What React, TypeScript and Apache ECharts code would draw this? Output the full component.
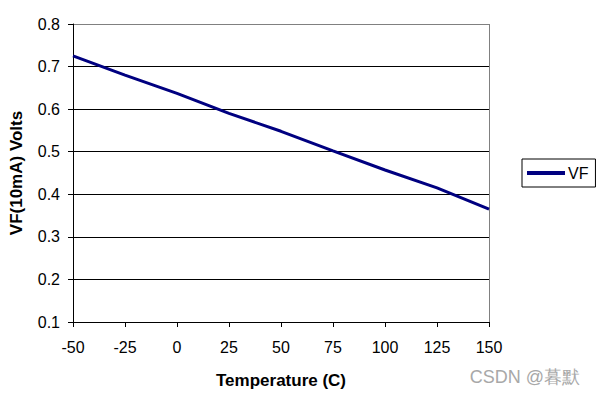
import React, { useEffect, useRef } from "react";
import * as echarts from "echarts";

const temperatures = [-50, -25, 0, 25, 50, 75, 100, 125, 150];
const vfValues = [0.725, 0.68, 0.637, 0.59, 0.548, 0.502, 0.457, 0.415, 0.365];
const seriesName = "VF";
const xAxisName = "Temperature (C)";
const yAxisName = "VF(10mA) Volts";
const watermark = "CSDN @暮默";

export default function App() {
  const ref = useRef<HTMLDivElement>(null);
  useEffect(() => {
    if (!ref.current) return;
    const chart = echarts.init(ref.current, null, { renderer: "svg" });
    const font = "Liberation Sans, Arial, sans-serif";
    chart.setOption({
      animation: false,
      backgroundColor: "#fff",
      textStyle: { fontFamily: font },
      grid: { left: 72, right: 107, top: 24, bottom: 72 },
      xAxis: {
        type: "value",
        min: -50,
        max: 150,
        interval: 25,
        name: xAxisName,
        nameLocation: "middle",
        nameGap: 50,
        nameTextStyle: { fontSize: 17, fontWeight: "bold", color: "#000", fontFamily: font },
        axisLine: { show: true, onZero: false, lineStyle: { color: "#000", width: 1 } },
        axisTick: { show: true, length: 5, lineStyle: { color: "#000" } },
        axisLabel: { fontSize: 16, color: "#000", margin: 17, fontFamily: font },
        splitLine: {
          show: true,
          lineStyle: {
            color: ["transparent", "transparent", "transparent", "transparent", "transparent", "transparent", "transparent", "transparent", "#808080"],
            width: 1,
          },
        },
      },
      yAxis: {
        type: "value",
        min: 0.1,
        max: 0.8,
        interval: 0.1,
        name: yAxisName,
        nameLocation: "middle",
        nameGap: 48,
        nameTextStyle: { fontSize: 17, fontWeight: "bold", color: "#000", fontFamily: font },
        axisLine: { show: true, onZero: false, lineStyle: { color: "#000", width: 1 } },
        axisTick: { show: true, length: 5, lineStyle: { color: "#000" } },
        axisLabel: {
          fontSize: 16,
          color: "#000",
          margin: 13,
          fontFamily: font,
          formatter: (v: number) => v.toFixed(1),
        },
        splitLine: {
          show: true,
          lineStyle: {
            color: ["#000", "#000", "#000", "#000", "#000", "#000", "#000", "#808080"],
            width: 1,
          },
        },
      },
      legend: {
        show: true,
        left: 522,
        top: 159,
        orient: "vertical",
        borderColor: "#000",
        borderWidth: 1,
        padding: [6, 7, 6, 5],
        itemWidth: 38,
        itemHeight: 4,
        itemGap: 2,
        textStyle: { fontSize: 16, color: "#000", fontFamily: font, padding: [0, 0, 0, -2] },
        data: [{ name: seriesName, icon: "rect" }],
      },
      series: [
        {
          name: seriesName,
          type: "line",
          data: temperatures.map((t, i) => [t, vfValues[i]]),
          symbol: "none",
          lineStyle: { color: "#000080", width: 3 },
          itemStyle: { color: "#000080" },
        },
      ],
      graphic: [
        {
          type: "text",
          right: 16,
          bottom: 8,
          style: { text: watermark, fill: "#a8a8a8", font: `18px ${font}` },
        },
      ],
    });
    return () => chart.dispose();
  }, []);
  return (
    <div
      ref={ref}
      style={{ position: "fixed", left: 0, top: 0, width: 596, height: 394 }}
    />
  );
}
